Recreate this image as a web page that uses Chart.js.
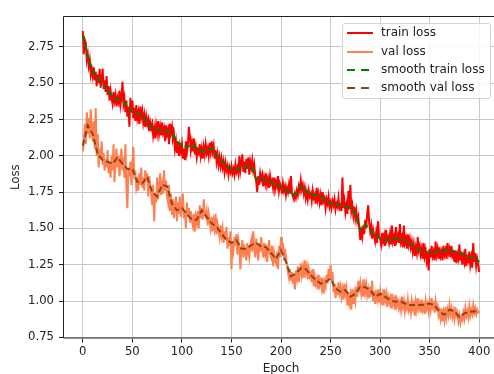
<!DOCTYPE html>
<html>
<head>
  <meta charset="UTF-8">
  <title>Loss</title>
  <style>
    body { margin: 0; background: #fff; overflow: hidden; font-family: "DejaVu Sans", sans-serif; }
    .chart-box { position: absolute; left: 0; top: 0; width: 499px; height: 374px; }
    .legend { position: absolute; left: 342px; top: 23px; width: 147px; height: 74px;
      border: 1px solid #d4d4d4; border-radius: 3px; background: rgba(255,255,255,0.85); }
    .item { position: absolute; left: 0; height: 14px; font-size: 12px; color: #222; }
    .item .mark { position: absolute; left: 4px; top: 6px; width: 26px; height: 2px; }
    .item span { position: absolute; left: 38px; top: -1px; white-space: nowrap; line-height: 14px; }
  </style>
</head>
<body>
  <div class="chart-box">
    <canvas id="lossChart"></canvas>
  </div>
  <!-- legend drawn as html so it can sit inside the axes with a box -->
  <div class="legend" id="legend"></div>

  <script src="https://cdn.jsdelivr.net/npm/chart.js@4.4.0/dist/chart.umd.min.js"></script>
  <script>
    // per-epoch losses (epoch = index)
    const trainLoss = [
      2.86, 2.70, 2.80, 2.78, 2.66, 2.70, 2.62, 2.66, 2.56, 2.60,
      2.55, 2.61, 2.52, 2.58, 2.48, 2.56, 2.50, 2.60, 2.47, 2.53,
      2.60, 2.46, 2.52, 2.44, 2.55, 2.42, 2.48, 2.38, 2.45, 2.40,
      2.36, 2.44, 2.38, 2.42, 2.34, 2.40, 2.37, 2.45, 2.35, 2.40,
      2.51, 2.36, 2.40, 2.30, 2.38, 2.27, 2.34, 2.20, 2.40, 2.30,
      2.38, 2.26, 2.33, 2.24, 2.35, 2.26, 2.30, 2.22, 2.34, 2.27,
      2.31, 2.23, 2.28, 2.20, 2.27, 2.22, 2.25, 2.17, 2.23, 2.19,
      2.22, 2.14, 2.19, 2.12, 2.21, 2.16, 2.24, 2.15, 2.20, 2.14,
      2.23, 2.16, 2.19, 2.10, 2.21, 2.15, 2.18, 2.08, 2.22, 2.16,
      2.20, 2.12, 2.15, 2.05, 2.10, 2.02, 2.09, 2.00, 2.07, 2.03,
      2.08, 1.98, 2.05, 1.97, 2.10, 2.02, 2.07, 2.20, 2.14, 2.04,
      2.09, 2.03, 2.12, 2.01, 2.06, 1.99, 2.04, 2.02, 2.08, 2.00,
      2.05, 1.98, 2.06, 2.01, 2.08, 2.02, 2.05, 2.00, 2.09, 2.03,
      2.10, 2.03, 2.07, 1.98, 2.04, 1.96, 2.01, 1.94, 1.99, 1.93,
      1.98, 1.92, 1.96, 1.89, 1.95, 1.90, 1.93, 1.87, 1.92, 1.89,
      1.93, 1.88, 1.91, 1.87, 1.94, 1.89, 1.92, 1.88, 2.00, 1.90,
      1.95, 2.01, 1.89, 1.96, 1.88, 1.98, 1.91, 1.99, 1.87, 1.96,
      1.92, 1.97, 1.90, 1.94, 1.86, 1.82, 1.75, 1.86, 1.80, 1.88,
      1.84, 1.87, 1.79, 1.85, 1.81, 1.88, 1.80, 1.84, 1.78, 1.86,
      1.81, 1.83, 1.78, 1.85, 1.77, 1.82, 1.79, 1.86, 1.76, 1.81,
      1.79, 1.74, 1.81, 1.76, 1.79, 1.73, 1.78, 1.75, 1.80, 1.74,
      1.86, 1.75, 1.72, 1.70, 1.74, 1.71, 1.76, 1.73, 1.79, 1.76,
      1.83, 1.77, 1.80, 1.74, 1.78, 1.71, 1.75, 1.70, 1.76, 1.72,
      1.74, 1.69, 1.76, 1.71, 1.73, 1.67, 1.78, 1.70, 1.74, 1.68,
      1.73, 1.66, 1.75, 1.69, 1.71, 1.64, 1.70, 1.67, 1.72, 1.65,
      1.68, 1.64, 1.69, 1.66, 1.70, 1.63, 1.67, 1.65, 1.71, 1.64,
      1.66, 1.62, 1.85, 1.64, 1.69, 1.61, 1.66, 1.60, 1.76, 1.63,
      1.80, 1.62, 1.66, 1.59, 1.65, 1.57, 1.62, 1.55, 1.58, 1.50,
      1.42, 1.48, 1.44, 1.52, 1.46, 1.56, 1.50, 1.60, 1.66, 1.54,
      1.48, 1.52, 1.43, 1.49, 1.45, 1.41, 1.47, 1.40, 1.55, 1.44,
      1.43, 1.39, 1.47, 1.41, 1.45, 1.38, 1.49, 1.42, 1.44, 1.40,
      1.46, 1.39, 1.52, 1.41, 1.44, 1.38, 1.51, 1.42, 1.45, 1.40,
      1.53, 1.41, 1.44, 1.37, 1.52, 1.40, 1.43, 1.36, 1.46, 1.39,
      1.43, 1.37, 1.41, 1.34, 1.39, 1.31, 1.37, 1.33, 1.44, 1.35,
      1.38, 1.32, 1.36, 1.29, 1.40, 1.31, 1.35, 1.28, 1.33, 1.21,
      1.36, 1.30, 1.38, 1.31, 1.34, 1.28, 1.41, 1.32, 1.36, 1.29,
      1.37, 1.31, 1.34, 1.28, 1.38, 1.32, 1.35, 1.29, 1.40, 1.33,
      1.36, 1.30, 1.38, 1.31, 1.33, 1.27, 1.35, 1.26, 1.32, 1.29,
      1.39, 1.28, 1.34, 1.25, 1.31, 1.27, 1.36, 1.24, 1.32, 1.26,
      1.34, 1.25, 1.30, 1.23, 1.40, 1.27, 1.33, 1.24, 1.29, 1.25,
      1.20
    ];

    const valLoss = [
      2.03, 2.10, 2.22, 2.08, 2.30, 2.15, 2.26, 2.12, 2.32, 2.18,
      2.10, 2.24, 2.05, 2.33, 2.00, 2.15, 1.92, 2.05, 1.98, 2.10,
      1.94, 2.02, 1.90, 1.98, 1.92, 2.04, 1.88, 1.96, 1.85, 2.00,
      1.90, 2.08, 1.82, 1.96, 2.05, 1.92, 2.00, 1.86, 1.97, 2.05,
      1.90, 1.99, 1.85, 2.08, 1.78, 1.64, 1.92, 1.86, 1.96, 1.80,
      1.95, 2.06, 1.84, 1.90, 1.78, 1.82, 1.76, 1.88, 1.80, 1.92,
      1.78, 1.85, 1.76, 1.90, 1.82, 1.88, 1.72, 1.86, 1.80, 1.74,
      1.66, 1.80, 1.55, 1.74, 1.68, 1.85, 1.70, 1.78, 1.88, 1.73,
      1.80, 1.74, 1.90, 1.76, 1.83, 1.72, 1.68, 1.80, 1.62, 1.74,
      1.60, 1.70, 1.57, 1.66, 1.72, 1.55, 1.68, 1.60, 1.72, 1.58,
      1.65, 1.74, 1.57, 1.62, 1.50, 1.68, 1.58, 1.64, 1.54, 1.62,
      1.56, 1.52, 1.60, 1.48, 1.58, 1.54, 1.62, 1.50, 1.66, 1.57,
      1.64, 1.56, 1.70, 1.60, 1.58, 1.62, 1.52, 1.60, 1.55, 1.50,
      1.58, 1.48, 1.55, 1.50, 1.60, 1.46, 1.53, 1.49, 1.44, 1.52,
      1.45, 1.50, 1.40, 1.48, 1.42, 1.51, 1.36, 1.44, 1.38, 1.48,
      1.22, 1.40, 1.35, 1.44, 1.38, 1.46, 1.32, 1.42, 1.37, 1.22,
      1.36, 1.42, 1.30, 1.39, 1.33, 1.28, 1.40, 1.35, 1.30, 1.38,
      1.42, 1.34, 1.48, 1.37, 1.30, 1.43, 1.35, 1.28, 1.40, 1.34,
      1.44, 1.36, 1.30, 1.40, 1.33, 1.39, 1.27, 1.36, 1.42, 1.32,
      1.30, 1.38, 1.24, 1.33, 1.28, 1.26, 1.34, 1.22, 1.38, 1.30,
      1.44, 1.35, 1.40, 1.28, 1.36, 1.30, 1.25, 1.20, 1.16, 1.22,
      1.14, 1.20, 1.12, 1.18, 1.08, 1.21, 1.16, 1.24, 1.13, 1.20,
      1.26, 1.18, 1.23, 1.16, 1.28, 1.20, 1.24, 1.15, 1.22, 1.17,
      1.19, 1.13, 1.22, 1.10, 1.17, 1.12, 1.15, 1.08, 1.18, 1.11,
      1.14, 1.09, 1.16, 1.05, 1.13, 1.10, 1.18, 1.12, 1.22, 1.15,
      1.25, 1.14, 1.20, 1.06, 1.12, 1.02, 1.10, 1.04, 1.13, 1.06,
      1.10, 1.03, 1.08, 1.01, 1.12, 1.05, 1.09, 0.97, 1.06, 0.99,
      1.04, 0.94, 1.08, 0.98, 1.05, 1.00, 1.10, 1.03, 1.14, 1.06,
      1.12, 1.05, 1.10, 1.03, 1.15, 1.06, 1.11, 1.04, 1.08, 1.02,
      1.10, 1.03, 1.14, 1.00, 1.07, 0.98, 1.05, 1.01, 1.08, 0.99,
      1.06, 1.00, 1.04, 0.97, 1.08, 1.01, 1.05, 0.96, 1.03, 0.99,
      1.02, 0.95, 1.05, 0.98, 1.01, 0.94, 1.04, 0.97, 1.00, 0.95,
      0.99, 0.94, 1.03, 0.96, 1.00, 0.93, 0.98, 0.95, 1.01, 0.94,
      0.97, 0.92, 1.00, 0.95, 0.98, 0.90, 0.99, 0.94, 1.02, 0.95,
      0.98, 0.92, 1.01, 0.94, 0.97, 0.91, 1.00, 0.95, 0.98, 0.93,
      0.99, 0.94, 1.02, 0.96, 0.98, 0.92, 1.00, 0.95, 0.97, 0.90,
      0.93, 0.88, 0.95, 0.86, 0.92, 0.87, 0.96, 0.89, 0.94, 0.90,
      0.97, 0.91, 0.95, 0.89, 0.93, 0.88, 0.96, 0.90, 0.92, 0.86,
      0.90, 0.85, 0.89, 0.87, 0.92, 0.88, 0.95, 0.90, 0.93, 0.89,
      0.96, 0.90, 0.94, 0.91, 0.97, 0.92, 0.95, 0.91, 0.94, 0.92,
      0.92
    ];

    // smoothed curves, read every 5 epochs
    const smoothStep = 5;
    const smoothTrain = [
      2.83, 2.68, 2.58, 2.53, 2.50, 2.45, 2.41, 2.39, 2.38, 2.34,
      2.30, 2.29, 2.28, 2.23, 2.19, 2.18, 2.175, 2.17, 2.16, 2.10,
      2.07, 2.06, 2.08, 2.05, 2.03, 2.04, 2.05, 2.01, 1.97, 1.93,
      1.91, 1.91, 1.92, 1.93, 1.93, 1.84, 1.85, 1.83, 1.82, 1.80,
      1.79, 1.77, 1.73, 1.74, 1.79, 1.76, 1.73, 1.73, 1.72, 1.69,
      1.67, 1.67, 1.66, 1.65, 1.64, 1.60, 1.49, 1.53, 1.49, 1.46,
      1.43, 1.42, 1.42, 1.43, 1.43, 1.42, 1.40, 1.37, 1.35, 1.34,
      1.34, 1.33, 1.35, 1.35, 1.355, 1.34, 1.33, 1.32, 1.30, 1.30,
      1.27
    ];
    const smoothVal = [
      2.07, 2.21, 2.15, 2.01, 1.97, 1.96, 1.945, 1.99, 1.945, 1.91,
      1.91, 1.82, 1.81, 1.855, 1.75, 1.72, 1.80, 1.79, 1.67, 1.625,
      1.64, 1.60, 1.56, 1.56, 1.625, 1.58, 1.535, 1.51, 1.465, 1.42,
      1.40, 1.42, 1.36, 1.36, 1.385, 1.40, 1.375, 1.37, 1.33, 1.29,
      1.35, 1.27, 1.17, 1.19, 1.225, 1.22, 1.18, 1.145, 1.12, 1.13,
      1.155, 1.087, 1.064, 1.075, 1.03, 1.05, 1.10, 1.095, 1.075, 1.03,
      1.05, 1.03, 1.006, 0.995, 1.00, 0.983, 0.972, 0.972, 0.972, 0.975,
      0.983, 0.97, 0.926, 0.905, 0.94, 0.93, 0.89, 0.915, 0.926, 0.93,
      0.926
    ];

    const xTicks = [0, 50, 100, 150, 200, 250, 300, 350, 400];
    const yTicks = [0.75, 1.00, 1.25, 1.50, 1.75, 2.00, 2.25, 2.50, 2.75];

    const seriesNames = ['train loss', 'val loss', 'smooth train loss', 'smooth val loss'];
    const seriesColors = ['#ff0000', '#ff7f50', '#008000', '#8b4513'];

    const toPoints = (arr, step) => arr.map((y, i) => ({ x: i * step, y: y }));

    Chart.defaults.font.family = '"DejaVu Sans", sans-serif';
    Chart.defaults.font.size = 11.7;
    Chart.defaults.color = '#222';

    // left, top and bottom spines (the right one falls outside the picture)
    const frame = {
      id: 'frame',
      afterDraw(chart) {
        const a = chart.chartArea, c = chart.ctx;
        c.save();
        c.strokeStyle = '#222';
        c.lineWidth = 1;
        c.beginPath();
        c.moveTo(a.right, a.top + 0.5);
        c.lineTo(a.left + 0.5, a.top + 0.5);
        c.lineTo(a.left + 0.5, a.bottom - 0.5);
        c.lineTo(a.right, a.bottom - 0.5);
        c.stroke();
        c.restore();
      }
    };

    const ctx = document.getElementById('lossChart').getContext('2d');
    new Chart(ctx, {
      type: 'line',
      data: {
        datasets: [
          { label: seriesNames[0], data: toPoints(trainLoss, 1), borderColor: seriesColors[0], borderWidth: 2, order: 3 },
          { label: seriesNames[1], data: toPoints(valLoss, 1), borderColor: seriesColors[1], borderWidth: 2, order: 2 },
          { label: seriesNames[2], data: toPoints(smoothTrain, smoothStep), borderColor: seriesColors[2], borderWidth: 2, borderDash: [6, 3], order: 1 },
          { label: seriesNames[3], data: toPoints(smoothVal, smoothStep), borderColor: seriesColors[3], borderWidth: 2, borderDash: [6, 3], order: 0 }
        ]
      },
      options: {
        responsive: true,
        maintainAspectRatio: false,
        animation: false,
        layout: { padding: { top: 16, right: 0, bottom: 0, left: 0 } },
        elements: { point: { radius: 0 }, line: { tension: 0, fill: false } },
        plugins: { legend: { display: false }, tooltip: { enabled: false } },
        scales: {
          x: {
            type: 'linear',
            min: -20,
            max: 420,
            afterBuildTicks: s => { s.ticks = xTicks.map(v => ({ value: v })); },
            afterFit: s => { s.height = 35.5; },
            ticks: { padding: 2, maxRotation: 0, callback: v => String(v) },
            grid: { color: '#c8c8c8', lineWidth: 1, tickLength: 4, tickColor: '#222' },
            border: { display: false },
            title: { display: true, text: 'Epoch', font: { size: 12 }, padding: { top: 0, bottom: -2 } }
          },
          y: {
            min: 0.742,
            max: 2.963,
            afterBuildTicks: s => { s.ticks = yTicks.map(v => ({ value: v })); },
            afterFit: s => { s.width = 63; },
            ticks: { padding: 5, callback: v => v.toFixed(2) },
            grid: { color: '#c8c8c8', lineWidth: 1, tickLength: 4, tickColor: '#222' },
            border: { display: false },
            title: { display: true, text: 'Loss', font: { size: 11.7 }, padding: { top: 9, bottom: 0 } }
          }
        }
      },
      plugins: [frame]
    });

    // legend rows
    const legend = document.getElementById('legend');
    const rowTops = [2, 20.5, 39, 57];
    seriesNames.forEach((name, i) => {
      const row = document.createElement('div');
      row.className = 'item';
      row.style.top = rowTops[i] + 'px';
      const mark = document.createElement('div');
      mark.className = 'mark';
      if (i < 2) {
        mark.style.background = seriesColors[i];
      } else {
        mark.style.background = 'repeating-linear-gradient(to right, ' + seriesColors[i] + ' 0 7.5px, transparent 7.5px 14.5px)';
      }
      const label = document.createElement('span');
      label.textContent = name;
      row.appendChild(mark);
      row.appendChild(label);
      legend.appendChild(row);
    });
  </script>
</body>
</html>
